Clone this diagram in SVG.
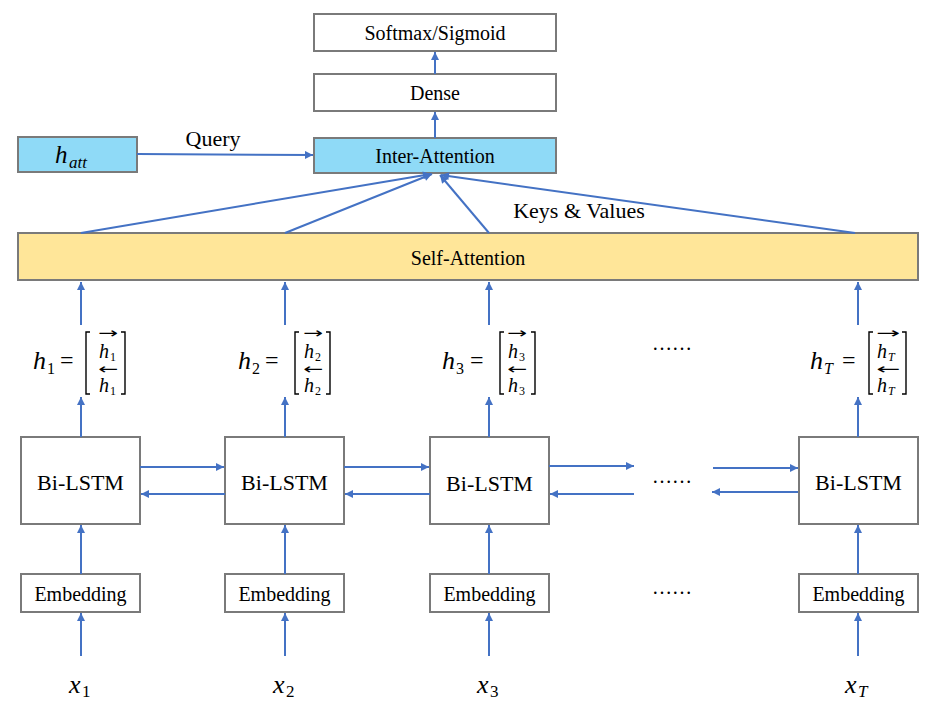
<svg xmlns="http://www.w3.org/2000/svg" width="934" height="710" viewBox="0 0 934 710" font-family="Liberation Serif, Times New Roman, serif">
<style>
.box{fill:#fff;stroke:#7a7a7a;stroke-width:2}
.blue{fill:#8fdaf7;stroke:#7a7a7a;stroke-width:2}
.yel{fill:#ffe699;stroke:#7a7a7a;stroke-width:2}
.lbl{font-size:20px;fill:#000;text-anchor:middle}
.big{font-size:22px}
.mi{font-style:italic;fill:#000}
.mn{fill:#000}
.ar{fill:#000;font-size:15px}
.br{fill:none;stroke:#000;stroke-width:1.4}
.c line{stroke:#4472c4;stroke-width:2;marker-end:url(#ah)}
</style>
<defs>
<marker id="ah" viewBox="0 0 10 10" refX="10" refY="5" markerWidth="9" markerHeight="8" markerUnits="userSpaceOnUse" orient="auto">
<path d="M0,0 L10,5 L0,10 z" fill="#4472c4"/>
</marker>
</defs>

<g id="softmax"><rect class="box" x="314" y="14" width="242" height="37"/><text class="lbl" x="435" y="40">Softmax/Sigmoid</text></g>
<g id="dense"><rect class="box" x="314" y="74" width="242" height="37"/><text class="lbl" x="435" y="100">Dense</text></g>
<g id="inter"><rect class="blue" x="314" y="138" width="242" height="35"/><text class="lbl" x="435" y="163">Inter-Attention</text></g>
<g id="hatt"><rect class="blue" x="18" y="137" width="119" height="35"/><text class="mi" x="55" y="163" font-size="25">h</text><text class="mi" x="69" y="168" font-size="17">att</text></g>
<g id="selfatt"><rect class="yel" x="18" y="233" width="900" height="47"/><text class="lbl" x="468" y="265">Self-Attention</text></g>

<g id="lstm1"><rect class="box" x="21" y="437" width="119" height="87"/><text class="lbl big" x="80.5" y="490">Bi-LSTM</text></g>
<g id="lstm2"><rect class="box" x="225" y="437" width="119" height="87"/><text class="lbl big" x="284.5" y="490">Bi-LSTM</text></g>
<g id="lstm3"><rect class="box" x="430" y="437" width="119" height="87"/><text class="lbl big" x="489.5" y="491">Bi-LSTM</text></g>
<g id="lstmT"><rect class="box" x="799" y="437" width="119" height="87"/><text class="lbl big" x="858.5" y="490">Bi-LSTM</text></g>

<g id="emb1"><rect class="box" x="21" y="574" width="119" height="38"/><text class="lbl" x="80.5" y="601">Embedding</text></g>
<g id="emb2"><rect class="box" x="225" y="574" width="119" height="38"/><text class="lbl" x="284.5" y="601">Embedding</text></g>
<g id="emb3"><rect class="box" x="430" y="574" width="119" height="38"/><text class="lbl" x="489.5" y="601">Embedding</text></g>
<g id="embT"><rect class="box" x="799" y="574" width="119" height="38"/><text class="lbl" x="858.5" y="601">Embedding</text></g>

<g id="h1">
<text class="mi" x="33" y="369" font-size="26">h</text><text class="mn" x="47" y="374" font-size="16">1</text>
<text class="mn" x="60" y="368" font-size="24">=</text>
<path class="br" d="M90,332 H86 V394 H90"/>
<text class="ar" x="98" y="338" font-family="DejaVu Sans, sans-serif" textLength="20" lengthAdjust="spacingAndGlyphs">→</text>
<text class="mi" x="99" y="358" font-size="20">h</text><text class="mn" x="110" y="361" font-size="12">1</text>
<text class="ar" x="98" y="374" font-family="DejaVu Sans, sans-serif" textLength="20" lengthAdjust="spacingAndGlyphs">←</text>
<text class="mi" x="99" y="392" font-size="20">h</text><text class="mn" x="110" y="395" font-size="12">1</text>
<path class="br" d="M121,332 H125 V394 H121"/>
</g>
<g id="h2">
<text class="mi" x="238" y="369" font-size="26">h</text><text class="mn" x="252" y="374" font-size="16">2</text>
<text class="mn" x="265" y="368" font-size="24">=</text>
<path class="br" d="M299,332 H295 V394 H299"/>
<text class="ar" x="303" y="338" font-family="DejaVu Sans, sans-serif" textLength="20" lengthAdjust="spacingAndGlyphs">→</text>
<text class="mi" x="304" y="358" font-size="20">h</text><text class="mn" x="315" y="361" font-size="12">2</text>
<text class="ar" x="303" y="374" font-family="DejaVu Sans, sans-serif" textLength="20" lengthAdjust="spacingAndGlyphs">←</text>
<text class="mi" x="304" y="392" font-size="20">h</text><text class="mn" x="315" y="395" font-size="12">2</text>
<path class="br" d="M326,332 H330 V394 H326"/>
</g>
<g id="h3">
<text class="mi" x="442" y="369" font-size="26">h</text><text class="mn" x="456" y="374" font-size="16">3</text>
<text class="mn" x="470" y="368" font-size="24">=</text>
<path class="br" d="M504,332 H500 V394 H504"/>
<text class="ar" x="507" y="338" font-family="DejaVu Sans, sans-serif" textLength="20" lengthAdjust="spacingAndGlyphs">→</text>
<text class="mi" x="508" y="358" font-size="20">h</text><text class="mn" x="519" y="361" font-size="12">3</text>
<text class="ar" x="507" y="374" font-family="DejaVu Sans, sans-serif" textLength="20" lengthAdjust="spacingAndGlyphs">←</text>
<text class="mi" x="508" y="392" font-size="20">h</text><text class="mn" x="519" y="395" font-size="12">3</text>
<path class="br" d="M531,332 H535 V394 H531"/>
</g>
<g id="hT">
<text class="mi" x="810" y="369" font-size="26">h</text><text class="mi" x="824" y="374" font-size="16">T</text>
<text class="mn" x="842" y="368" font-size="24">=</text>
<path class="br" d="M873,332 H869 V394 H873"/>
<text class="ar" x="876" y="338" font-family="DejaVu Sans, sans-serif" textLength="24" lengthAdjust="spacingAndGlyphs">→</text>
<text class="mi" x="877" y="358" font-size="20">h</text><text class="mi" x="888" y="361" font-size="12">T</text>
<text class="ar" x="876" y="374" font-family="DejaVu Sans, sans-serif" textLength="24" lengthAdjust="spacingAndGlyphs">←</text>
<text class="mi" x="877" y="392" font-size="20">h</text><text class="mi" x="888" y="395" font-size="12">T</text>
<path class="br" d="M902,332 H906 V394 H902"/>
</g>

<g id="x1"><text class="mi" x="69" y="693" font-size="26">x</text><text class="mn" x="82" y="697" font-size="17">1</text></g>
<g id="x2"><text class="mi" x="273" y="693" font-size="26">x</text><text class="mn" x="286" y="697" font-size="17">2</text></g>
<g id="x3"><text class="mi" x="477" y="693" font-size="26">x</text><text class="mn" x="490" y="697" font-size="17">3</text></g>
<g id="xT"><text class="mi" x="845" y="693" font-size="26">x</text><text class="mi" x="858" y="697" font-size="17">T</text></g>

<g id="dots">
<text class="mn" x="652" y="350" font-size="20">……</text>
<text class="mn" x="652" y="483" font-size="20">……</text>
<text class="mn" x="652" y="594" font-size="20">……</text>
</g>

<g id="labels">
<text class="lbl big" x="213" y="146">Query</text>
<text class="lbl big" x="579" y="218">Keys &amp; Values</text>
</g>

<g id="connectors" class="c">
<line x1="435" y1="74" x2="435" y2="52"/>
<line x1="435" y1="138" x2="435" y2="112"/>
<line x1="137" y1="154" x2="313" y2="155"/>
<line x1="81" y1="233" x2="431" y2="174"/>
<line x1="285" y1="233" x2="432" y2="174"/>
<line x1="489" y1="233" x2="440" y2="175"/>
<line x1="855" y1="233" x2="441" y2="175"/>
<line x1="81" y1="325" x2="81" y2="282"/>
<line x1="285" y1="325" x2="285" y2="282"/>
<line x1="489" y1="325" x2="489" y2="282"/>
<line x1="858" y1="325" x2="858" y2="282"/>
<line x1="81" y1="437" x2="81" y2="397"/>
<line x1="285" y1="437" x2="285" y2="397"/>
<line x1="489" y1="437" x2="489" y2="397"/>
<line x1="858" y1="437" x2="858" y2="397"/>
<line x1="140" y1="467" x2="224" y2="467"/>
<line x1="225" y1="494" x2="141" y2="494"/>
<line x1="344" y1="467" x2="429" y2="467"/>
<line x1="430" y1="494" x2="345" y2="494"/>
<line x1="549" y1="466" x2="634" y2="466"/>
<line x1="634" y1="494" x2="550" y2="494"/>
<line x1="713" y1="468" x2="798" y2="468"/>
<line x1="798" y1="492" x2="712" y2="492"/>
<line x1="81" y1="574" x2="81" y2="525"/>
<line x1="285" y1="574" x2="285" y2="525"/>
<line x1="489" y1="574" x2="489" y2="525"/>
<line x1="858" y1="574" x2="858" y2="525"/>
<line x1="81" y1="656" x2="81" y2="613"/>
<line x1="285" y1="656" x2="285" y2="613"/>
<line x1="489" y1="656" x2="489" y2="613"/>
<line x1="858" y1="656" x2="858" y2="613"/>
</g>
</svg>
